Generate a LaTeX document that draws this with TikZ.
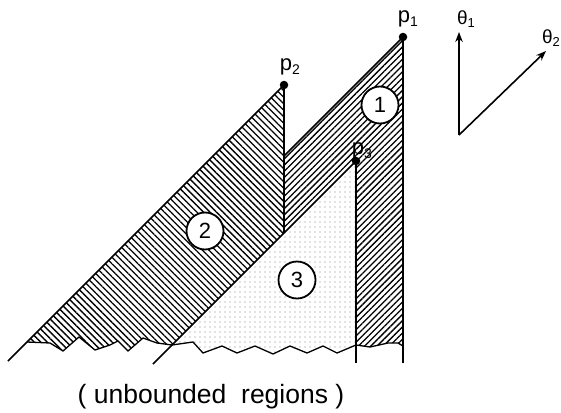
\documentclass[tikz,border=0pt]{standalone}
\usepackage{fontspec}
\setmainfont{Liberation Sans}
\usetikzlibrary{arrows.meta,patterns.meta}

\begin{document}
\begin{tikzpicture}[
  x=1pt, y=-1pt,
  >=Stealth,
  edge/.style={line width=1.7pt},
  zig/.style={line width=1.3pt, line join=miter},
  hatchL/.style={pattern={Lines[angle=-45,distance=4.6pt,line width=1.3pt]}},
  hatchR/.style={pattern={Lines[angle=45,distance=4.4pt,line width=1.3pt]}},
  dotty/.style={pattern={Dots[distance=5pt,radius=0.7pt]}, pattern color=black!50},
  tag/.style={circle, draw, line width=1.8pt, fill=white, minimum size=37pt,
              inner sep=0pt, font=\fontsize{22}{22}\selectfont},
  vertex/.style={circle, fill, inner sep=0pt, minimum size=8.5pt},
  plab/.style={anchor=base, inner sep=0pt, font=\fontsize{22}{22}\selectfont},
  axis/.style={->, line width=1.6pt, >={Stealth[length=10pt,width=7.5pt]}},
]
\useasboundingbox (0,0) rectangle (561,412);

% apex points of the three regions
\node[vertex] (p1) at (403,37) {};
\node[vertex] (p2) at (284,85) {};
\node[vertex] (p3) at (356,161) {};

% where the 45 degree edges meet the verticals, and the free ends
\coordinate (k1) at (284,156);
\coordinate (k3) at (284,233);
\coordinate (e1) at (403,363);
\coordinate (e3) at (356,363);
\coordinate (e2) at (8,361);
\coordinate (e4) at (153,364);
\coordinate (z1) at (403,346);
\coordinate (z2) at (27,342);
\coordinate (z3) at (172,345);
\coordinate (z4) at (356,345);

% region 1
\fill[hatchR] (p1.center) -- (z1) -- (398,343) -- (388,343) -- (370,347) -- (z4)
  -- (p3.center) -- (k3) -- (k1) -- cycle;
% region 2
\fill[hatchL] (p2.center) -- (k3) -- (z3) -- (157,343) -- (143,338) -- (128,351)
  -- (118,341) -- (110,345) -- (95,350) -- (79,337) -- (63,351) -- (50,343)
  -- (z2) -- cycle;
% region 3
\fill[dotty] (p3.center) -- (z4) -- (337,353) -- (323,346) -- (307,353) -- (290,346)
  -- (273,354) -- (255,346) -- (237,353) -- (222,346) -- (203,353) -- (193,342)
  -- (z3) -- cycle;

% torn lower borders
\draw[zig] (z1) -- (398,343) -- (388,343) -- (370,347) -- (z4);
\draw[zig] (z4) -- (337,353) -- (323,346) -- (307,353) -- (290,346) -- (273,354)
  -- (255,346) -- (237,353) -- (222,346) -- (203,353) -- (193,342) -- (z3);
\draw[zig] (z3) -- (157,343) -- (143,338) -- (128,351) -- (118,341) -- (110,345)
  -- (95,350) -- (79,337) -- (63,351) -- (50,343) -- (z2);

% region edges
\draw[edge] (p1.center) -- (e1);
\draw[edge] (p1.center) -- (k1);
\draw[edge] (p2.center) -- (k3);
\draw[edge] (p2.center) -- (e2);
\draw[edge] (p3.center) -- (e3);
\draw[edge] (p3.center) -- (e4);

% point labels
\node[plab] (l1) at (408,23) {p\raisebox{-4pt}{\fontsize{14}{14}\selectfont 1}};
\node[plab] (l2) at (290,70) {p\raisebox{-4pt}{\fontsize{14}{14}\selectfont 2}};
\node[plab] (l3) at (362,154) {p\raisebox{-4pt}{\fontsize{14}{14}\selectfont 3}};

% region numbers
\node[tag] (r1) at (380,105) {1};
\node[tag] (r2) at (205,231) {2};
\node[tag] (r3) at (297,280) {3};

% parameter directions
\coordinate (o) at (459,135);
\coordinate (t1) at (459,32);
\coordinate (t2) at (546,51);
\draw[axis] (o) -- (t1);
\draw[axis] (o) -- (t2);
\node[plab, font=\fontsize{19}{19}\selectfont] (th1) at (466,25)
  {θ\raisebox{-3pt}{\fontsize{13}{13}\selectfont 1}};
\node[plab, font=\fontsize{19}{19}\selectfont] (th2) at (551,44)
  {θ\raisebox{-3pt}{\fontsize{13}{13}\selectfont 2}};

\node[anchor=base, inner sep=0pt, font=\fontsize{26.5}{30}\selectfont] (cap) at (211,403)
  {( unbounded\ \ regions )};
\end{tikzpicture}
\end{document}
